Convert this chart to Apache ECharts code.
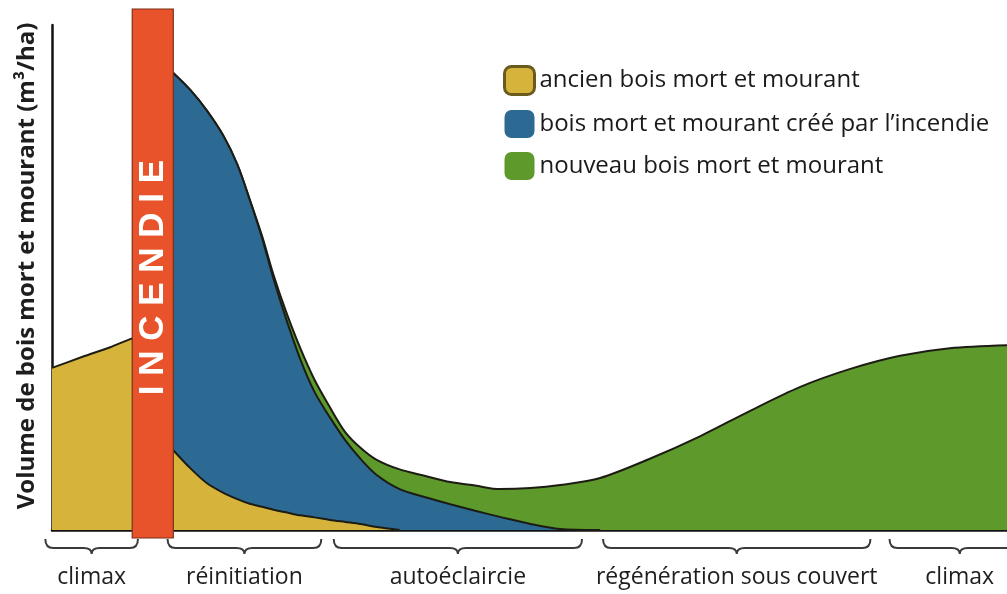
<!DOCTYPE html>
<html>
<head>
<meta charset="utf-8">
<script src="https://cdn.jsdelivr.net/npm/echarts@6/dist/echarts.min.js"></script>
<style>
html,body{margin:0;padding:0;background:#fff;}
#chart{width:1007px;height:594px;}
</style>
</head>
<body>
<div id="chart"></div>
<script>
// ---- data (arbitrary time units on x, relative volume on y) ----
const preFireTime = [0, 3.2, 6.1, 8.5, 10.5];
const preFireOld  = [32.1, 34.3, 36.2, 38.0, 38.8];

const postFireTime = [12.7, 14.5, 16.2, 17.9, 19.4, 20.7, 22.0, 23.2, 24.5, 26.0, 27.5, 29.1, 30.7, 32.3, 34.0, 36.4, 39.1, 41.7, 44.3, 46.9, 50.1, 53.2, 57.4, 62.6, 67.9, 73.1, 78.3, 83.6, 88.8, 94.0, 100];
const oldWood  = [15.8, 12.2, 9.3, 7.4, 6.1, 5.2, 4.6, 4.0, 3.5, 2.9, 2.5, 2.0, 1.6, 1.2, 0.6, 0, 0, 0, 0, 0, 0, 0, 0, 0, 0, 0, 0, 0, 0, 0, 0];
const fireWood = [74.7, 74.9, 73.8, 70.8, 66.3, 60.2, 53.2, 45.7, 38.4, 30.9, 24.8, 20.3, 16.2, 12.9, 10.3, 8.1, 6.5, 5.1, 3.8, 2.6, 1.2, 0.2, 0, 0, 0, 0, 0, 0, 0, 0, 0];
const newWood  = [0, 0, 0, 0, 0, 0.1, 0.4, 0.8, 1.4, 2.2, 2.4, 2.0, 1.6, 2.2, 3.0, 3.9, 4.2, 4.4, 5.0, 5.5, 7.1, 8.7, 10.3, 14.1, 18.6, 23.6, 28.3, 31.9, 34.5, 36.0, 36.6];

const seriesNames = ['ancien bois mort et mourant', 'bois mort et mourant créé par l\u2019incendie', 'nouveau bois mort et mourant'];

const fireStart = 8.4, fireEnd = 12.7;
const fireLabel = 'INCENDIE';

const phaseNames = ['climax', 'réinitiation', 'autoéclaircie', 'régénération sous couvert', 'climax'];
const phaseStart = [-0.7, 12.1, 29.5, 57.7, 87.7];
const phaseEnd   = [9.0, 28.2, 55.5, 85.7, 102.4];

const yAxisTitle = 'Volume de bois mort et mourant (m\u00B3/ha)';

// ---- build stacked tops ----
const topOld = oldWood.slice();
const topFire = oldWood.map((v, i) => v + fireWood[i]);
const topNew = topFire.map((v, i) => v + newWood[i]);

function trimmed(xs, ys, layer) {
  const out = [];
  let started = false;
  for (let i = 0; i < xs.length; i++) {
    if (layer[i] > 0) started = true;
    out.push([xs[i], ys[i]]);
    if (started && layer[i] === 0 && i > 0) break;
  }
  return out;
}

const oldData = preFireTime.map((t, i) => [t, preFireOld[i]])
  .concat([[ (preFireTime[preFireTime.length-1] + postFireTime[0]) / 2, '-' ]])
  .concat(trimmed(postFireTime, topOld, oldWood));
const fireData = trimmed(postFireTime, topFire, fireWood);
const newData = postFireTime.map((t, i) => [t, topNew[i]]);

const COL_OLD = '#d6b43c', COL_FIRE = '#2c6a94', COL_NEW = '#5e9a2b', COL_RED = '#e8532b';
const FONT = '"Open Sans", "Liberation Sans", sans-serif';

const chart = echarts.init(document.getElementById('chart'));

function areaSeries(name, data, color, z) {
  return {
    type: 'line', name: name, data: data,
    smooth: 0.3, symbol: 'none', z: z,
    connectNulls: false,
    itemStyle: { color: color },
    lineStyle: { color: '#1c1c14', width: 2 },
    areaStyle: { color: color, opacity: 1 },
    emphasis: { disabled: true },
    animation: false
  };
}

chart.setOption({
  animation: false,
  backgroundColor: '#fff',
  grid: { left: 52, right: 0, top: 25, bottom: 64, containLabel: false },
  xAxis: {
    type: 'value', min: 0, max: 100,
    axisLine: { show: true, lineStyle: { color: '#111', width: 2.5 } },
    axisTick: { show: false }, axisLabel: { show: false }, splitLine: { show: false }
  },
  yAxis: {
    type: 'value', min: 0, max: 100,
    name: yAxisTitle, nameLocation: 'middle', nameRotate: 90, nameGap: 13,
    nameTextStyle: { fontFamily: FONT, fontSize: 24, fontWeight: 'bold', color: '#1e1e1e', padding: [0, 0, 0, 23] },
    axisLine: { show: true, lineStyle: { color: '#111', width: 2.5 } },
    axisTick: { show: false }, axisLabel: { show: false }, splitLine: { show: false }
  },
  legend: {
    orient: 'vertical', left: 498, top: 60,
    itemWidth: 30, itemHeight: 28, itemGap: 14,
    selectedMode: false,
    textStyle: { fontFamily: FONT, fontSize: 24, color: '#1a1a1a' },
    data: [
      { name: seriesNames[0], icon: 'roundRect', itemStyle: { color: COL_OLD, borderColor: '#6b5a1e', borderWidth: 3 } },
      { name: seriesNames[1], icon: 'roundRect', itemStyle: { color: COL_FIRE, borderWidth: 0 } },
      { name: seriesNames[2], icon: 'roundRect', itemStyle: { color: COL_NEW, borderWidth: 0 } }
    ]
  },
  series: [
    areaSeries(seriesNames[2], newData, COL_NEW, 2),
    areaSeries(seriesNames[1], fireData, COL_FIRE, 3),
    areaSeries(seriesNames[0], oldData, COL_OLD, 4),
    {
      type: 'custom', name: 'fire', z: 10, clip: false, silent: true,
      data: [[fireStart, fireEnd]],
      encode: { x: [0, 1] },
      renderItem: function (params, api) {
        const p0 = api.coord([api.value(0), 100]);
        const p1 = api.coord([api.value(1), 0]);
        const top = p0[1] - 16, bottom = p1[1] + 8;
        return {
          type: 'group',
          children: [
            { type: 'rect', shape: { x: p0[0], y: top, width: p1[0] - p0[0], height: bottom - top },
              style: { fill: COL_RED, stroke: '#7a2f16', lineWidth: 1.2 } },
            { type: 'text', x: (p0[0] + p1[0]) / 2 + 1, y: (p0[1] + p1[1]) / 2, rotation: Math.PI / 2,
              style: { text: fireLabel.split('').join(' '), fill: '#fff', fontSize: 35, fontWeight: 'bold',
                       fontFamily: '"Liberation Sans", sans-serif', align: 'center', verticalAlign: 'middle' } }
          ]
        };
      }
    },
    {
      type: 'custom', name: 'phases', z: 10, clip: false, silent: true,
      data: phaseStart.map((s, i) => [s, phaseEnd[i]]),
      encode: { x: [0, 1] },
      renderItem: function (params, api) {
        const a = api.coord([api.value(0), 0]);
        const b = api.coord([api.value(1), 0]);
        const x1 = a[0], x2 = b[0], cx = (x1 + x2) / 2;
        const y0 = a[1] + 9, y1 = a[1] + 18, y2 = a[1] + 24, r = 8;
        const d = 'M' + x1 + ' ' + y0 + ' Q' + x1 + ' ' + y1 + ' ' + (x1 + r) + ' ' + y1 +
                  ' L' + (cx - r) + ' ' + y1 + ' Q' + cx + ' ' + y1 + ' ' + cx + ' ' + y2 +
                  ' Q' + cx + ' ' + y1 + ' ' + (cx + r) + ' ' + y1 +
                  ' L' + (x2 - r) + ' ' + y1 + ' Q' + x2 + ' ' + y1 + ' ' + x2 + ' ' + y0;
        return {
          type: 'group',
          children: [
            { type: 'path', shape: { pathData: d }, style: { fill: 'none', stroke: '#3a3a3a', lineWidth: 2 } },
            { type: 'text', x: cx, y: a[1] + 47,
              style: { text: phaseNames[params.dataIndex], fill: '#1e1e1e', fontSize: 23, fontFamily: FONT,
                       align: 'center', verticalAlign: 'middle' } }
          ]
        };
      }
    }
  ]
});
</script>
</body>
</html>
